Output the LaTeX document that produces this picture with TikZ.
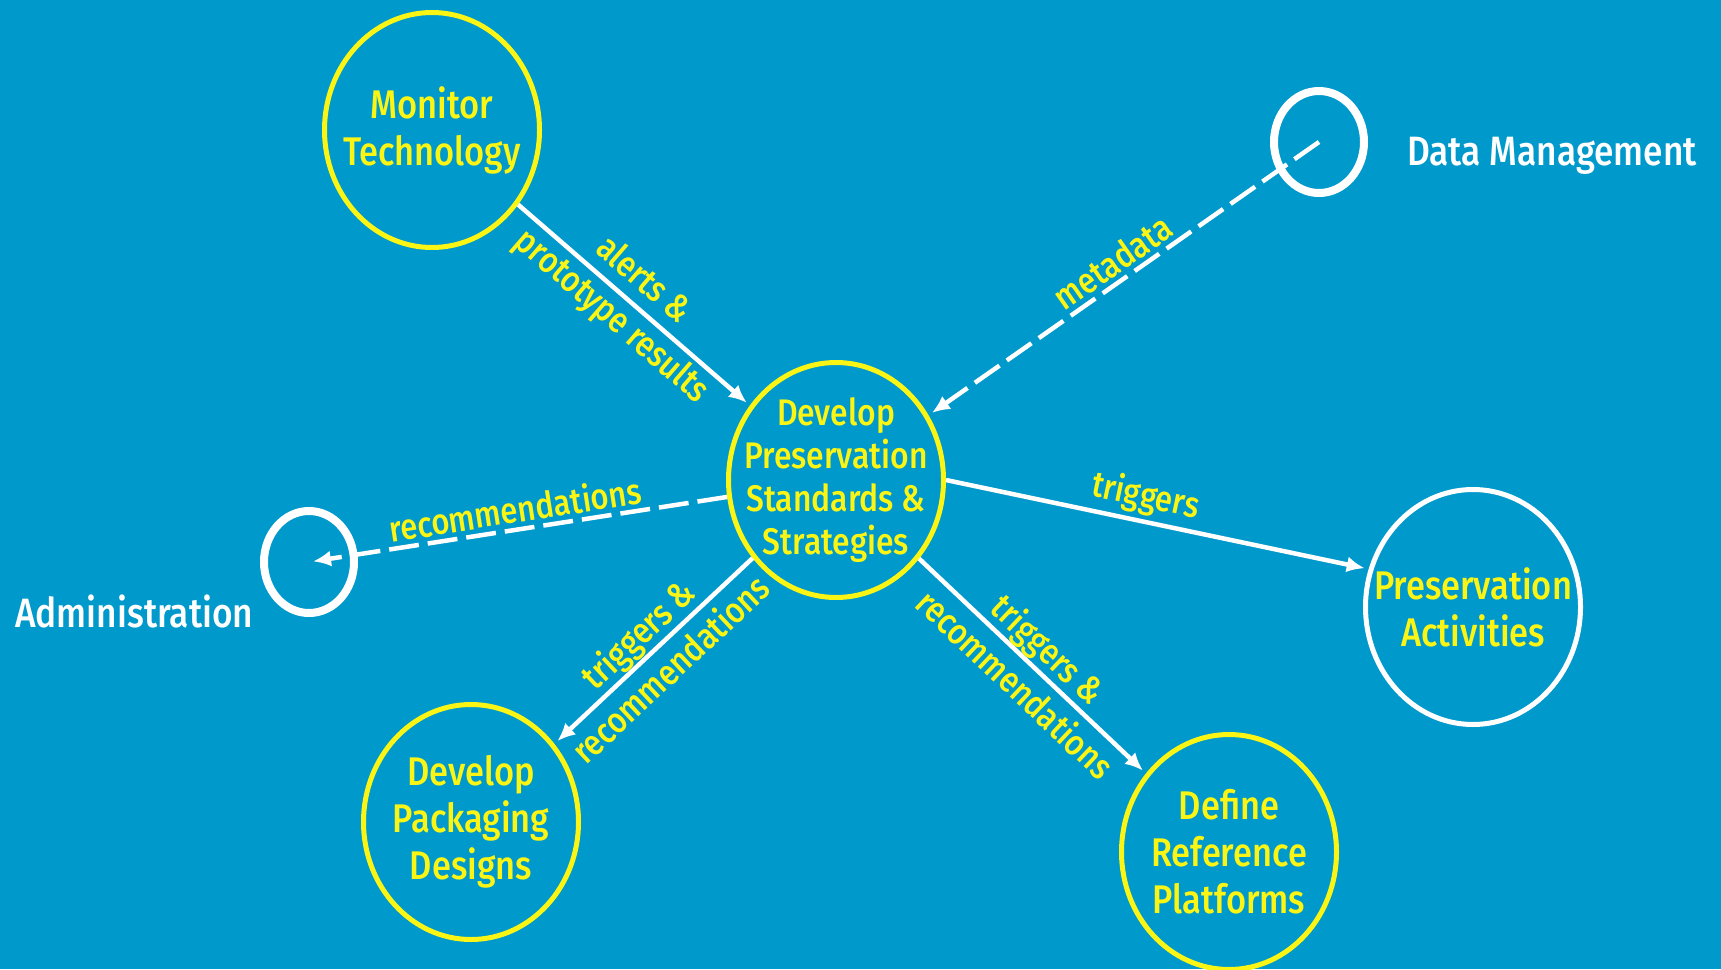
\documentclass[tikz,border=0pt]{standalone}
\usepackage{fontspec}
\setmainfont[FakeStretch=0.86]{Fira Sans Medium}
\usetikzlibrary{arrows.meta,shapes.geometric}

\definecolor{bgblue}{RGB}{0,153,204}
\definecolor{hiyellow}{RGB}{250,245,20}

\tikzset{
  bubble/.style={ellipse, draw=hiyellow, line width=5pt, minimum width=215pt, minimum height=235pt, inner sep=0pt},
  bubbletext/.style={text=hiyellow, align=center, font=\fontsize{40}{47}\selectfont},
  ring/.style={ellipse, draw=white, line width=8pt, minimum width=90pt, minimum height=102pt, inner sep=0pt},
  ringtext/.style={text=white, inner sep=0pt, font=\fontsize{41}{48}\selectfont},
  flow/.style={draw=white, line width=4.5pt, -{Latex[length=18pt,width=16pt]}, shorten >=4pt},
  dataflow/.style={flow, dash pattern=on 30pt off 9pt},
  flowlabel/.style={text=hiyellow, align=center, sloped, inner sep=4pt, font=\fontsize{36}{48}\selectfont},
}

\begin{document}
\begin{tikzpicture}[x=1pt,y=-1pt]
    % Page and background
    \useasboundingbox (0,0) rectangle (1721,969);
    \fill[bgblue] (0,0) rectangle (1721,969);

    % Process bubbles
    \node[bubble, label={[bubbletext]center:Monitor\\Technology}] (mon) at (432,130) {};
    \node[bubble, label={[bubbletext, font=\fontsize{37}{43}\selectfont]center:Develop\\Preservation\\Standards \&\\Strategies}] (dev) at (836,480) {};
    \node[bubble, draw=white, label={[bubbletext]center:Preservation\\Activities}] (pres) at (1473,607) {};
    \node[bubble, label={[bubbletext]center:Develop\\Packaging\\Designs}] (pack) at (471,822) {};
    \node[bubble, label={[bubbletext]center:Define\\Reference\\Platforms}] (ref) at (1229,852) {};

    % External entities
    \node[ring] (dm) at (1319,142) {};
    \node[ringtext, anchor=base west] (dmname) at (1407,165) {Data Management};
    \node[ring] (adm) at (309,562) {};
    \node[ringtext, anchor=base west] (admname) at (15,627) {Administration};

    % Flows - solid arrows
    \draw[flow] (mon) -- (dev) node[flowlabel, pos=0.47] {alerts \&\\prototype results};
    \draw[flow] (dev.east) -- (pres.160) node[flowlabel, pos=0.46, above] {triggers};
    \draw[flow] (dev) -- (pack) node[flowlabel, midway] {triggers \&\\recommendations};
    \draw[flow] (dev) -- (ref) node[flowlabel, midway] {triggers \&\\recommendations};

    % Flows - dashed arrows
    \draw[dataflow] (dm.center) -- (dev) node[flowlabel, pos=0.5, above] {metadata};
    \draw[dataflow] (dev) -- (adm.center) node[flowlabel, pos=0.5, above] {recommendations};
\end{tikzpicture}
\end{document}
